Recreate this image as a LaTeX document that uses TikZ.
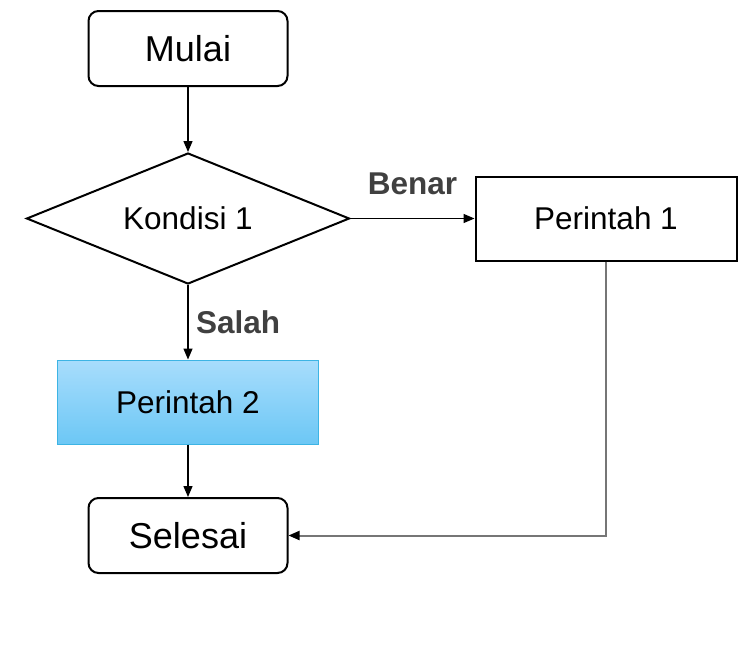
\documentclass[tikz,border=0pt]{standalone}
\usepackage{fontspec}
\setmainfont{Liberation Sans}
\usetikzlibrary{shapes.geometric,arrows.meta}
\definecolor{answergray}{HTML}{404040}
\definecolor{linegray}{HTML}{767676}
\definecolor{bluetop}{HTML}{A8DDFC}
\definecolor{bluebottom}{HTML}{6CC7F5}
\definecolor{blueborder}{HTML}{3DB4E4}

\begin{document}
\begin{tikzpicture}[x=1pt,y=-1pt,
	terminal/.style={draw, line width=2pt, rounded corners=10pt, minimum width=199pt, minimum height=75pt, inner sep=0pt, font=\fontsize{36}{43}\selectfont},
	process/.style={draw, line width=2pt, minimum width=261pt, minimum height=84pt, inner sep=0pt, font=\fontsize{31.5}{38}\selectfont},
	decision/.style={diamond, aspect=2.47, draw, line width=2pt, minimum width=323pt, minimum height=131pt, inner sep=0pt, font=\fontsize{31.5}{38}\selectfont},
	flow/.style={line width=1.3pt, -{Triangle[length=11pt,width=9pt,color=black]}},
	answer/.style={font=\fontsize{31.5}{38}\selectfont\bfseries, text=answergray, inner sep=0pt}]
	\useasboundingbox (0,0) rectangle (754,645);
	\node[terminal] (mulai) at (188,48.5) {Mulai};
	\node[decision] (kondisi) at (188,218.5) {Kondisi 1};
	\node[process] (perintah1) at (606,218.5) {Perintah 1};
	\node[process, draw=blueborder, line width=1pt, top color=bluetop, bottom color=bluebottom] (perintah2) at (188,402) {Perintah 2};
	\node[terminal] (selesai) at (188,535.5) {Selesai};
	\draw[flow] (mulai) -- (kondisi);
	\draw[flow] (kondisi) -- node[answer, midway, above=23pt] {Benar} (perintah1);
	\draw[flow] (kondisi) -- node[answer, midway, right=7.5pt] {Salah} (perintah2);
	\draw[flow] (perintah2) -- (selesai);
	\draw[flow, draw=linegray, line width=2pt] (perintah1) |- (selesai);
\end{tikzpicture}
\end{document}
